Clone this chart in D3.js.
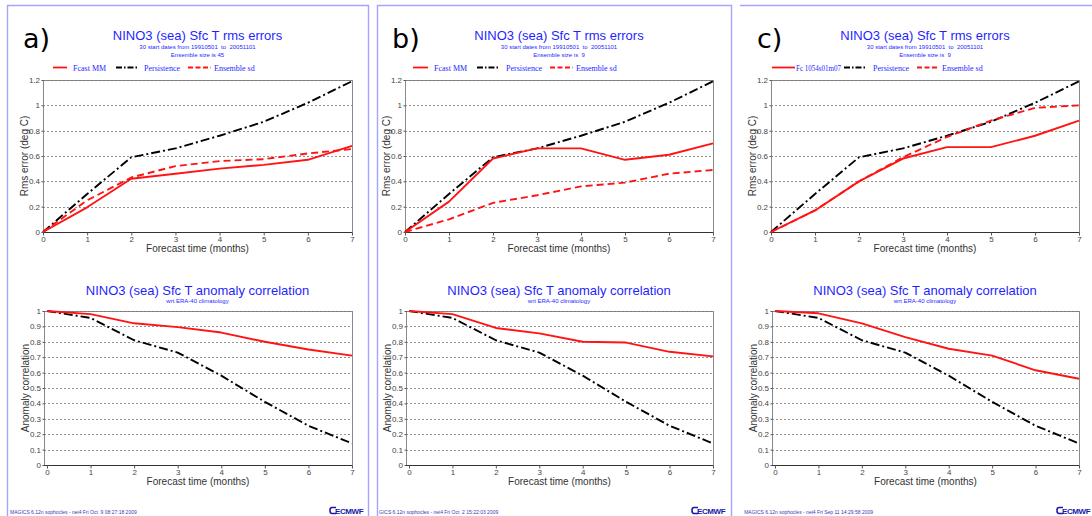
<!DOCTYPE html>
<html>
<head>
<meta charset="utf-8">
<script src="https://cdn.jsdelivr.net/npm/d3@7"></script>
<style>
  html, body { margin: 0; padding: 0; background: #fff; }
  svg { display: block; }
</style>
</head>
<body>
<svg id="chart" width="1092" height="516"></svg>
<script>
// ---------------- DATA ----------------
const months = [0, 1, 2, 3, 4, 5, 6, 7];
const rmsTicks = [0, 0.2, 0.4, 0.6, 0.8, 1, 1.2];
const accTicks = [0, 0.1, 0.2, 0.3, 0.4, 0.5, 0.6, 0.7, 0.8, 0.9, 1];

// RMS errors (deg C)
const persistenceRms = [0, 0.30, 0.59, 0.66, 0.76, 0.87, 1.02, 1.19];
const fcastRmsA = [0, 0.195, 0.42, 0.46, 0.50, 0.53, 0.57, 0.68];
const ensSdA    = [0, 0.25, 0.43, 0.52, 0.56, 0.575, 0.62, 0.655];
const fcastRmsB = [0, 0.24, 0.58, 0.66, 0.66, 0.57, 0.61, 0.70];
const ensSdB    = [0, 0.10, 0.23, 0.29, 0.36, 0.39, 0.46, 0.49];
const fcastRmsC = [0, 0.17, 0.40, 0.58, 0.67, 0.67, 0.76, 0.88];
const ensSdC    = [0, 0.17, 0.40, 0.59, 0.75, 0.88, 0.98, 1.00];

// Anomaly correlation
const persistenceAcc = [1.0, 0.955, 0.81, 0.73, 0.58, 0.41, 0.255, 0.14];
const fcastAccA = [1.0, 0.98, 0.92, 0.895, 0.86, 0.80, 0.75, 0.71];
const fcastAccB = [1.0, 0.98, 0.89, 0.855, 0.80, 0.795, 0.735, 0.705];
const fcastAccC = [1.0, 0.985, 0.92, 0.83, 0.755, 0.71, 0.615, 0.56];

const panelLetters = ['a)', 'b)', 'c)'];
const ensembleTexts = ['Ensemble size is 45', 'Ensemble size is  9', 'Ensemble size is  9'];
const legendLabelsA = ['Fcast MM', 'Persistence', 'Ensemble sd'];
const legendLabelsB = ['Fcast MM', 'Persistence', 'Ensemble sd'];
const legendLabelsC = ['Fc 1054s01m07', 'Persistence', 'Ensemble sd'];
const footers = [
  'MAGICS 6.12n sophocles - nei4 Fri Oct  9 08:27:18 2009',
  'GICS 6.12n sophocles - nei4 Fri Oct  2 15:22:03 2009',
  'MAGICS 6.12n sophocles - nei4 Fri Sep 11 14:29:58 2009'
];
const rmsTitle = 'NINO3 (sea) Sfc T rms errors';
const rmsSub = '30 start dates from 19910501  to  20051101';
const accTitle = 'NINO3 (sea) Sfc T anomaly correlation';
const accSub = 'wrt ERA-40 climatology';
const xTitle = 'Forecast time (months)';
const rmsYTitle = 'Rms error (deg C)';
const accYTitle = 'Anomaly correlation';

// ---------------- LAYOUT ----------------
const RED = '#ff1414';
const BLUE = '#1f1fff';
const BORDER = '#a4a4ff';
const DASHDOT = '9,3,2,3';
const DASHED = '7,4';

const panels = [
  { left: 43, right: 352, fc: fcastRmsA, sd: ensSdA, acc: fcastAccA, legend: legendLabelsA,
    legLines: [[10, 24], [73, 95], [145, 168]], legText: [30, 101, 171], legFirstLen: null,
    letterX: 23, logoX: 330, footX: 10, footAnchor: 'start' },
  { left: 405, right: 713, fc: fcastRmsB, sd: ensSdB, acc: fcastAccB, legend: legendLabelsB,
    legLines: [[8, 23], [72, 94], [145, 168]], legText: [29, 101, 171], legFirstLen: null,
    letterX: 392, logoX: 692, footX: 379, footAnchor: 'start' },
  { left: 771, right: 1079, fc: fcastRmsC, sd: ensSdC, acc: fcastAccC, legend: legendLabelsC,
    legLines: [[1, 24], [73, 96], [146, 168]], legText: [25, 102, 171], legFirstLen: 45,
    letterX: 757, logoX: 1057, footX: 873, footAnchor: 'end' }
];

const svg = d3.select('#chart');
svg.append('rect').attr('width', 1092).attr('height', 516).attr('fill', '#fff');

// Panel borders
const borders = svg.append('g').attr('fill', 'none').attr('stroke', BORDER).attr('stroke-width', 1.4);
borders.append('path').attr('d', 'M7.5,520 V5.5 H368.5 V520');
borders.append('path').attr('d', 'M377.5,520 V5.5 H731.5 V520');
borders.append('path').attr('d', 'M740,5.5 H1092');

const FONT = 'Liberation Sans, Arial, Helvetica, sans-serif';
const SERIF = 'Liberation Serif, Times New Roman, serif';

function drawPlot(g, p, opt) {
  const x = d3.scaleLinear().domain([0, 7]).range([opt.x0, p.right]);
  const y = d3.scaleLinear().domain([0, opt.ymax]).range([opt.yb, opt.yt]);

  // frame
  g.append('rect').attr('x', opt.frameLeft + 0.5).attr('y', opt.yt + 0.5)
    .attr('width', p.right - opt.frameLeft).attr('height', opt.yb - opt.yt)
    .attr('fill', 'none').attr('stroke', '#8a8a8a').attr('stroke-width', 1);

  // grid lines
  g.append('g').selectAll('line').data(opt.ticks.filter(t => t > 0)).join('line')
    .attr('x1', opt.frameLeft).attr('x2', p.right)
    .attr('y1', d => Math.round(y(d)) + 0.5).attr('y2', d => Math.round(y(d)) + 0.5)
    .attr('stroke', '#777').attr('stroke-width', 0.8).attr('stroke-dasharray', '2,2');

  // x axis
  const xAxis = d3.axisBottom(x).tickValues(months).tickSize(3).tickPadding(1).tickFormat(d3.format('d'));
  const xg = g.append('g').attr('transform', `translate(0,${opt.yb + 0.5})`).call(xAxis);
  xg.select('.domain').attr('d', `M${opt.frameLeft},0H${p.right}`).attr('stroke', '#333').attr('stroke-width', 1.2);
  xg.selectAll('.tick line').attr('stroke', '#555');
  xg.selectAll('text').attr('font-family', FONT).attr('font-size', 8).attr('fill', '#444');

  // y axis
  const yAxis = d3.axisLeft(y).tickValues(opt.ticks).tickSize(2).tickPadding(1.5)
    .tickFormat(d => d3.format('')(+d.toFixed(2)));
  const yg = g.append('g').attr('transform', `translate(${opt.frameLeft + 0.5},0)`).call(yAxis);
  yg.select('.domain').remove();
  yg.selectAll('.tick line').attr('stroke', '#555');
  yg.selectAll('text').attr('font-family', FONT).attr('font-size', 8).attr('fill', '#444');

  // axis titles
  g.append('text').attr('x', (opt.frameLeft + p.right) / 2).attr('y', opt.yb + 20)
    .attr('text-anchor', 'middle').attr('font-family', FONT).attr('font-size', 10).attr('fill', '#333')
    .text(xTitle);
  g.append('text').attr('transform', `translate(${opt.frameLeft - 15},${(opt.yt + opt.yb) / 2}) rotate(-90)`)
    .attr('text-anchor', 'middle').attr('font-family', FONT).attr('font-size', 10).attr('fill', '#333')
    .text(opt.yTitle);

  const line = d3.line().x((d, i) => x(months[i])).y(d => y(d));
  opt.series.forEach(s => {
    g.append('path').datum(s.values).attr('d', line)
      .attr('fill', 'none').attr('stroke', s.color).attr('stroke-width', 1.9)
      .attr('stroke-dasharray', s.dash || null).attr('stroke-linejoin', 'round');
  });
}

panels.forEach((p, i) => {
  const g = svg.append('g');
  const cx = (p.left + p.right) / 2;

  // panel letter
  g.append('text').attr('x', p.letterX).attr('y', 48).attr('font-family', 'DejaVu Sans, sans-serif')
    .attr('font-size', 27).attr('fill', '#000').text(panelLetters[i]);

  // RMS titles
  g.append('text').attr('x', cx).attr('y', 39.5).attr('text-anchor', 'middle')
    .attr('font-family', FONT).attr('font-size', 13).attr('fill', BLUE).text(rmsTitle);
  g.append('text').attr('x', cx).attr('y', 49).attr('text-anchor', 'middle')
    .attr('font-family', FONT).attr('font-size', 6).attr('fill', BLUE)
    .style('white-space', 'pre').text(rmsSub);
  g.append('text').attr('x', cx).attr('y', 57).attr('text-anchor', 'middle')
    .attr('font-family', FONT).attr('font-size', 6).attr('fill', BLUE)
    .style('white-space', 'pre').text(ensembleTexts[i]);

  // legend
  const legStyles = [{ c: RED, d: null }, { c: '#000', d: '6,2,1.5,2' }, { c: RED, d: '5,2.5' }];
  p.legend.forEach((lab, k) => {
    const [a, b] = p.legLines[k];
    g.append('line').attr('x1', p.left + a).attr('x2', p.left + b).attr('y1', 67.5).attr('y2', 67.5)
      .attr('stroke', legStyles[k].c).attr('stroke-width', 1.8).attr('stroke-dasharray', legStyles[k].d);
    const t = g.append('text').attr('x', p.left + p.legText[k]).attr('y', 70.5)
      .attr('font-family', SERIF).attr('font-size', 8).attr('fill', BLUE).text(lab);
    if (k === 0 && p.legFirstLen) {
      t.attr('textLength', p.legFirstLen).attr('lengthAdjust', 'spacingAndGlyphs');
    }
  });

  drawPlot(g, p, {
    x0: p.left, frameLeft: p.left, yt: 80, yb: 232, ymax: 1.2, ticks: rmsTicks, yTitle: rmsYTitle,
    series: [
      { values: persistenceRms, color: '#000', dash: DASHDOT },
      { values: p.sd, color: RED, dash: DASHED },
      { values: p.fc, color: RED }
    ]
  });

  // ACC titles
  g.append('text').attr('x', cx).attr('y', 294.5).attr('text-anchor', 'middle')
    .attr('font-family', FONT).attr('font-size', 13).attr('fill', BLUE).text(accTitle);
  g.append('text').attr('x', cx).attr('y', 302.5).attr('text-anchor', 'middle')
    .attr('font-family', FONT).attr('font-size', 6).attr('fill', BLUE).text(accSub);

  drawPlot(g, p, {
    x0: p.left + 4, frameLeft: p.left + 1, yt: 311, yb: 465, ymax: 1, ticks: accTicks, yTitle: accYTitle,
    series: [
      { values: persistenceAcc, color: '#000', dash: DASHDOT },
      { values: p.acc, color: RED }
    ]
  });

  // footer
  g.append('text').attr('x', p.footX).attr('y', 514).attr('text-anchor', p.footAnchor)
    .attr('font-family', FONT).attr('font-size', 5).attr('fill', '#3a3ab0')
    .style('white-space', 'pre').text(footers[i]);

  // ECMWF logo
  const lg = g.append('g').attr('transform', `translate(${p.logoX},514)`);
  lg.append('path').attr('d', 'M6,-6.5 H2 Q0,-6.5 0,-3.5 Q0,-0.5 2,-0.5 H6')
    .attr('fill', 'none').attr('stroke', '#1a1aa8').attr('stroke-width', 1.6);
  lg.append('text').attr('x', 5).attr('y', 0).attr('font-family', FONT).attr('font-weight', 'bold')
    .attr('font-size', 8).attr('fill', '#1a1aa8').attr('letter-spacing', -0.4).text('ECMWF');
});
</script>
</body>
</html>
